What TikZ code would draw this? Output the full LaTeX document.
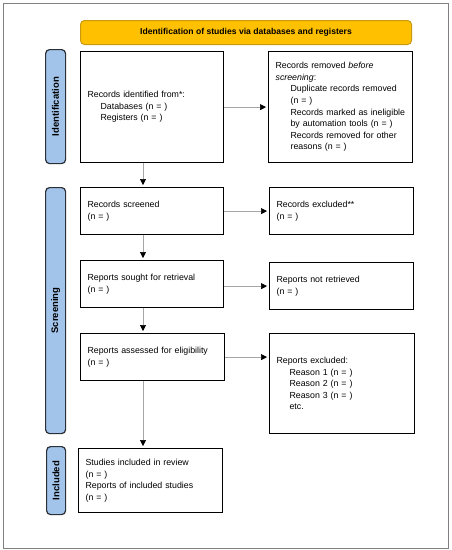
\documentclass[tikz,border=0pt]{standalone}
\usepackage{fontspec}
\setmainfont{Liberation Sans}
\usetikzlibrary{arrows.meta}
\definecolor{bannerfill}{HTML}{FFC000}
\definecolor{bannerline}{HTML}{C99A10}
\definecolor{sidefill}{HTML}{A3C4EA}
\definecolor{sideline}{HTML}{2B2F36}
\definecolor{framegray}{HTML}{808080}
\definecolor{arrowgray}{HTML}{A6A6A6}
\begin{document}
\begin{tikzpicture}[x=1pt,y=-1pt,
  box/.style={draw=black,line width=1.2pt,anchor=north west,inner xsep=7pt,inner ysep=2pt,
    align=left,font=\fontsize{8.8}{11.6}\selectfont},
  side/.style={draw=sideline,fill=sidefill,line width=1.2pt,rounded corners=4pt,
    anchor=north west,inner sep=0pt},
  sidetext/.style={rotate=90,font=\fontsize{9.5}{11}\selectfont\bfseries},
  flow/.style={draw=arrowgray,line width=0.7pt,shorten >=2pt,
    -{Triangle[length=6pt,width=6pt,color=black]}}]
\useasboundingbox (0,0) rectangle (452,550);
\draw[framegray,line width=1pt] (3,3) rectangle (448,548);
% banner
\node[draw=bannerline,fill=bannerfill,line width=1pt,rounded corners=4pt,anchor=north west,
  minimum width=331pt,minimum height=24pt,inner sep=0pt,
  font=\fontsize{8.6}{11}\selectfont\bfseries] (banner) at (80,20)
  {Identification of studies via databases and registers};
% side labels
\node[side,minimum width=20pt,minimum height=114pt] (sideid) at (45,49) {};
\node[sidetext] at (sideid.center) {Identification};
\node[side,minimum width=20pt,minimum height=246pt] (sidescr) at (45,187) {};
\node[sidetext] at (sidescr.center) {Screening};
\node[side,minimum width=19pt,minimum height=68pt] (sideinc) at (46,446) {};
\node[sidetext] at (sideinc.center) {Included};
% boxes
\node[box,text width=129pt,minimum height=111pt] (ident) at (80,51)
  {Records identified from*:\\\hspace*{13pt}Databases (n = )\\\hspace*{13pt}Registers (n = )};
\node[box,text width=130pt,minimum height=111pt] (removed) at (268,51)
  {Records removed \textit{before}\\\textit{screening}:\\
   \hspace*{15pt}\mbox{Duplicate records removed}\\\hspace*{15pt}(n = )\\
   \hspace*{15pt}\mbox{Records marked as ineligible}\\\hspace*{15pt}\mbox{by automation tools (n = )}\\
   \hspace*{15pt}\mbox{Records removed for other}\\\hspace*{15pt}reasons (n = )};
\node[box,text width=129pt,minimum height=47pt] (screened) at (80,187)
  {Records screened\\(n = )};
\node[box,text width=130pt,minimum height=47pt] (excluded) at (269,187)
  {Records excluded**\\(n = )};
\node[box,text width=129pt,minimum height=47pt] (sought) at (80,260)
  {Reports sought for retrieval\\(n = )};
\node[box,text width=130pt,minimum height=47pt] (notret) at (269,262)
  {Reports not retrieved\\(n = )};
\node[box,text width=130pt,minimum height=47pt] (assessed) at (80,333)
  {Reports assessed for eligibility\\(n = )};
\node[box,text width=131pt,minimum height=100pt] (repexcl) at (269,333)
  {Reports excluded:\\\hspace*{13pt}Reason 1 (n = )\\\hspace*{13pt}Reason 2 (n = )\\
   \hspace*{13pt}Reason 3 (n = )\\\hspace*{13pt}etc.};
\node[box,text width=130pt,minimum height=64pt] (included) at (78,448)
  {Studies included in review\\(n = )\\Reports of included studies\\(n = )};
% connectors
\coordinate (vx) at (143,0);
\draw[flow] (ident.south -| vx) -- (screened.north -| vx);
\draw[flow] (screened.south -| vx) -- (sought.north -| vx);
\draw[flow] (sought.south -| vx) -- (assessed.north -| vx);
\draw[flow] (assessed.south -| vx) -- (included.north -| vx);
\draw[flow] (ident.east) -- (removed.west);
\draw[flow] (screened.east) -- (excluded.west);
\draw[flow] (sought.east |- notret.west) -- (notret.west);
\draw[flow] (assessed.east) -- (assessed.east -| repexcl.west);
\end{tikzpicture}
\end{document}
